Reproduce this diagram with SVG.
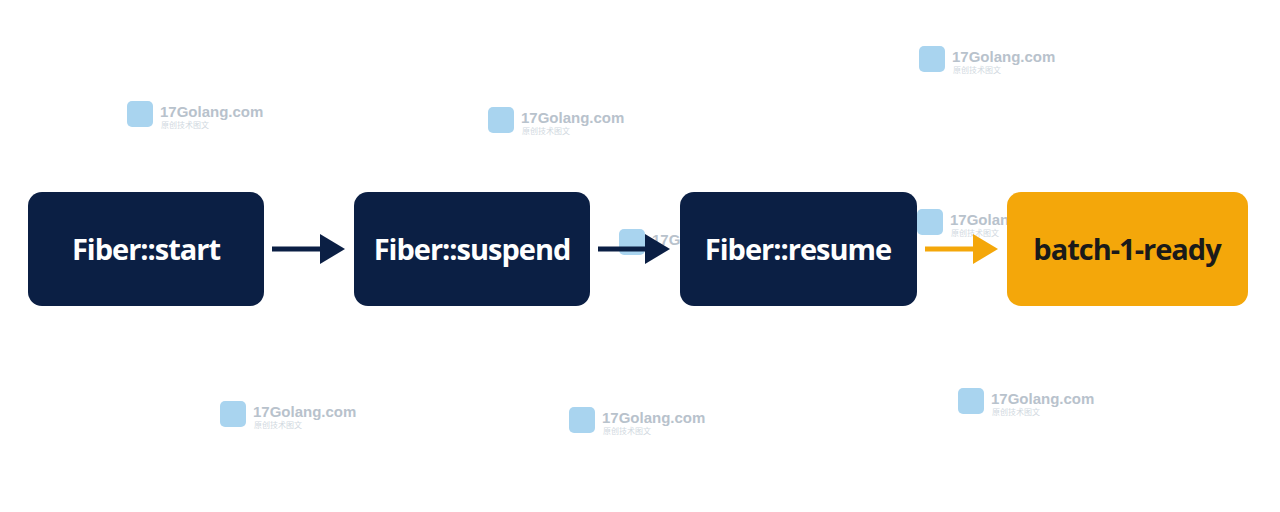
<svg xmlns="http://www.w3.org/2000/svg" width="1280" height="512" viewBox="0 0 1280 512">
<style>
.n{fill:#0b1f44}
.t{font-family:"Open Sans","Liberation Sans",sans-serif;font-weight:700;font-size:29px;text-anchor:middle;letter-spacing:-1px}
.wm text{font-family:"Liberation Sans",sans-serif;font-weight:700;font-size:15px;fill:#b8c2cc}
.wm .s{font-family:"Noto Sans CJK SC",sans-serif;font-size:8px;font-weight:400;fill:#d0d8e0}
.wm rect{fill:#a9d4ef}
</style>
<defs>
<marker id="a" markerWidth="6" markerHeight="6" refX="5" refY="3" orient="auto" markerUnits="strokeWidth"><path d="M0,0L6,3L0,6z" fill="context-stroke"/></marker>
<marker id="ad" markerWidth="5" markerHeight="6" refX="4" refY="3" orient="auto" markerUnits="strokeWidth"><path d="M0,0L5,3L0,6z" fill="#0b1f44"/></marker>
<marker id="ao" markerWidth="5" markerHeight="6" refX="4" refY="3" orient="auto" markerUnits="strokeWidth"><path d="M0,0L5,3L0,6z" fill="#f4a70a"/></marker>
</defs>
<rect width="1280" height="512" fill="#fff"/>
<g id="watermarks" class="wm">
<g transform="translate(127,101)"><rect width="26" height="26" rx="5"/><text x="33" y="16">17Golang.com</text><text class="s" x="34" y="27">原创技术图文</text></g>
<g transform="translate(488,107)"><rect width="26" height="26" rx="5"/><text x="33" y="16">17Golang.com</text><text class="s" x="34" y="27">原创技术图文</text></g>
<g transform="translate(919,46)"><rect width="26" height="26" rx="5"/><text x="33" y="16">17Golang.com</text><text class="s" x="34" y="27">原创技术图文</text></g>
<g transform="translate(917,209)"><rect width="26" height="26" rx="5"/><text x="33" y="16">17Golang.com</text><text class="s" x="34" y="27">原创技术图文</text></g>
<g transform="translate(220,401)"><rect width="26" height="26" rx="5"/><text x="33" y="16">17Golang.com</text><text class="s" x="34" y="27">原创技术图文</text></g>
<g transform="translate(569,407)"><rect width="26" height="26" rx="5"/><text x="33" y="16">17Golang.com</text><text class="s" x="34" y="27">原创技术图文</text></g>
<g transform="translate(958,388)"><rect width="26" height="26" rx="5"/><text x="33" y="16">17Golang.com</text><text class="s" x="34" y="27">原创技术图文</text></g>
<g transform="translate(619,229)"><rect width="26" height="26" rx="5"/><text x="33" y="16">17Golang.com</text></g>
</g>
<g id="connectors" stroke-width="5" fill="none">
<line x1="272" y1="249" x2="340" y2="249" stroke="#0b1f44" marker-end="url(#ad)"/>
<line x1="598" y1="249" x2="665" y2="249" stroke="#0b1f44" marker-end="url(#ad)"/>
<line x1="925" y1="249" x2="993" y2="249" stroke="#f4a70a" marker-end="url(#ao)"/>
</g>
<g id="n1"><rect class="n" x="28" y="192" width="236" height="114" rx="14"/><text class="t" x="146" y="260" fill="#fff">Fiber::start</text></g>
<g id="n2"><rect class="n" x="354" y="192" width="236" height="114" rx="14"/><text class="t" x="472" y="260" fill="#fff">Fiber::suspend</text></g>
<g id="n3"><rect class="n" x="680" y="192" width="237" height="114" rx="14"/><text class="t" x="798" y="260" fill="#fff">Fiber::resume</text></g>
<g id="n4"><rect x="1007" y="192" width="241" height="114" rx="14" fill="#f4a70a"/><text class="t" x="1127" y="260" fill="#1a1a1a">batch-1-ready</text></g>
</svg>
